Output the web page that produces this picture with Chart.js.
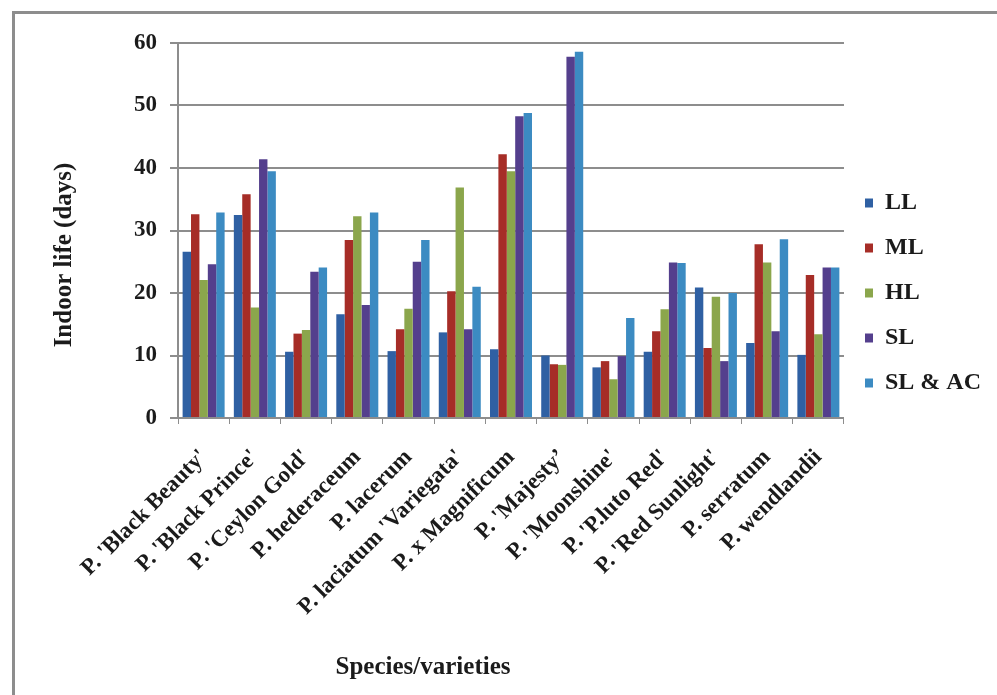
<!DOCTYPE html>
<html>
<head>
<meta charset="utf-8">
<script src="https://cdn.jsdelivr.net/npm/chart.js@4/dist/chart.umd.min.js"></script>
<style>
  html, body { margin: 0; padding: 0; background: #fff; }
  #wrap { position: relative; width: 997px; height: 695px; }
  #frame { position: absolute; left: 12px; top: 11px; right: -10px; bottom: -10px;
           border-left: 3px solid #8d8d8d; border-top: 3px solid #8d8d8d; pointer-events: none; }
  canvas { position: absolute; left: 0; top: 0; }
</style>
</head>
<body>
<div id="wrap">
  <canvas id="c" width="997" height="695"></canvas>
  <div id="frame"></div>
</div>
<script>
// Species / varieties on the category axis
const species = [
  "P. 'Black Beauty'", "P. 'Black Prince'", "P. 'Ceylon Gold'", "P. hederaceum",
  "P. lacerum", "P. laciatum 'Variegata'", "P. x Magnificum", "P. 'Majesty\u2019",
  "P. 'Moonshine'", "P. 'P.luto Red'", "P. 'Red Sunlight'", "P. serratum", "P. wendlandii"
];

// Indoor life (days) per light treatment
const LL   = [26.6, 32.5, 10.6, 16.6, 10.7, 13.7, 11.0, 10.0, 8.1, 10.6, 20.9, 12.0, 10.1];
const ML   = [32.6, 35.8, 13.5, 28.5, 14.2, 20.3, 42.2, 8.6, 9.1, 13.9, 11.2, 27.8, 22.9];
const HL   = [22.1, 17.7, 14.1, 32.3, 17.5, 36.9, 39.5, 8.5, 6.2, 17.4, 19.4, 24.9, 13.4];
const SL   = [24.6, 41.4, 23.4, 18.1, 25.0, 14.2, 48.3, 57.8, 9.9, 24.9, 9.1, 13.9, 24.1];
const SLAC = [32.9, 39.5, 24.1, 32.9, 28.5, 21.0, 48.8, 58.6, 16.0, 24.8, 20.0, 28.6, 24.1];

const seriesNames = ['LL', 'ML', 'HL', 'SL', 'SL & AC'];
const yTicks = [0, 10, 20, 30, 40, 50, 60];

const yTitle = 'Indoor life (days)';
const xTitle = 'Species/varieties';

const serif = '"Liberation Serif", "Times New Roman", serif';
const colors = ['#2f60a3', '#a62d27', '#8ba64c', '#543f8d', '#3c8bc2'];

// Axis captions, placed freely beside the plot
const captions = {
  id: 'captions',
  afterDraw(chart) {
    const { ctx, chartArea } = chart;
    ctx.save();
    ctx.fillStyle = '#1b1b1b';
    ctx.font = 'bold 25px ' + serif;
    ctx.textAlign = 'center';
    ctx.textBaseline = 'middle';
    ctx.fillText(xTitle, chartArea.left + 245, 668);
    ctx.translate(65, chartArea.top + 212);
    ctx.rotate(-Math.PI / 2);
    ctx.fillText(yTitle, 0, 0);
    ctx.restore();
  }
};

const values = [LL, ML, HL, SL, SLAC];

new Chart(document.getElementById('c'), {
  type: 'bar',
  data: {
    labels: species,
    datasets: seriesNames.map((name, i) => ({
      label: name,
      data: values[i],
      backgroundColor: colors[i],
      borderWidth: 0,
      categoryPercentage: 0.82,
      barPercentage: 1.0
    }))
  },
  options: {
    responsive: false,
    animation: false,
    layout: { padding: { left: 20, top: 43, right: 6, bottom: 0 } },
    plugins: {
      tooltip: { enabled: false },
      legend: {
        position: 'right',
        align: 'start',
        fullSize: false,
        title: { display: true, text: ' ', font: { size: 10 }, padding: { top: 115, bottom: 0 } },
        labels: {
          boxWidth: 8,
          boxHeight: 9,
          padding: 21,
          color: '#1b1b1b',
          font: { family: serif, size: 24, weight: 'bold' }
        }
      }
    },
    scales: {
      x: {
        grid: { display: true, drawOnChartArea: false, drawTicks: true, tickLength: 6, color: '#8d8d8d', lineWidth: 1 },
        border: { display: true, color: '#8d8d8d', width: 2 },
        ticks: {
          autoSkip: false,
          maxRotation: 45,
          minRotation: 45,
          padding: 20,
          color: '#1b1b1b',
          font: { family: serif, size: 23, weight: 'bold' }
        },
        afterFit(s) { s.height = 277; }
      },
      y: {
        min: 0,
        max: 60,
        afterBuildTicks(s) { s.ticks = yTicks.map(v => ({ value: v })); },
        grid: { color: '#8d8d8d', lineWidth: 2, tickLength: 8 },
        border: { display: true, color: '#8d8d8d', width: 2 },
        ticks: {
          padding: 13,
          color: '#1b1b1b',
          font: { family: serif, size: 23, weight: 'bold' }
        },
        afterFit(s) { s.width = 158; }
      }
    }
  },
  plugins: [captions]
});
</script>
</body>
</html>
